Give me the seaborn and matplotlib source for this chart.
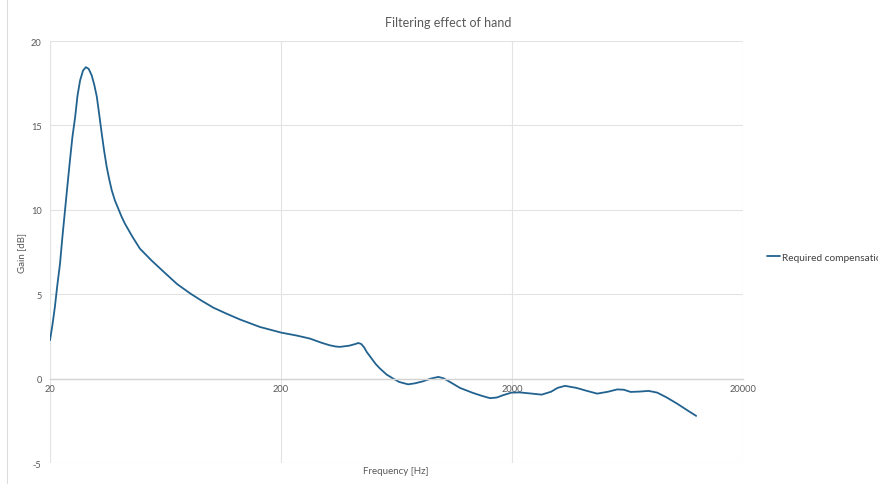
import matplotlib
matplotlib.use("Agg")
import matplotlib.pyplot as plt
from matplotlib.patches import Rectangle
import seaborn as sns
import pandas as pd

# Frequency response of the compensation needed for the hand's filtering
freq_hz = [20, 20.5, 21.0, 21.5, 22.1, 22.6, 23.2, 23.8, 24.4, 25.0, 25.7, 26.3,
           27.0, 27.8, 28.6, 29.4, 30.3, 31.1, 31.9, 32.7, 33.5, 34.3, 35.2,
           36.1, 37.0, 38.2, 39.5, 40.8, 42.2, 45.5, 49, 55, 63, 71, 81, 91,
           102, 116, 133, 162, 201, 234, 267, 300, 326, 345, 360, 395, 420, 432,
           445, 458, 470, 494, 515, 537, 573, 612, 650, 710, 760, 824, 890, 960,
           1010, 1078, 1190, 1356, 1480, 1608, 1720, 1832, 1990, 2165, 2400,
           2688, 2950, 3150, 3392, 3800, 4200, 4676, 5200, 5709, 6100, 6526,
           7100, 7820, 8500, 9300, 10360, 11400, 12540]
gain_db = [2.27, 3.2, 4.25, 5.5, 6.81, 8.3, 9.9, 11.45, 12.93, 14.3, 15.5, 16.75,
           17.67, 18.25, 18.45, 18.35, 17.97, 17.4, 16.69, 15.6, 14.51, 13.5,
           12.54, 11.8, 11.16, 10.55, 10.07, 9.6, 9.18, 8.4, 7.70, 7.0, 6.25,
           5.6, 5.04, 4.6, 4.2, 3.85, 3.5, 3.06, 2.72, 2.55, 2.37, 2.12, 1.97,
           1.9, 1.88, 1.95, 2.05, 2.11, 2.05, 1.85, 1.58, 1.18, 0.85, 0.59, 0.24,
           0.0, -0.2, -0.34, -0.28, -0.16, 0.0, 0.10, 0.02, -0.2, -0.55, -0.85,
           -1.02, -1.16, -1.12, -0.98, -0.83, -0.82, -0.88, -0.95, -0.78, -0.55,
           -0.43, -0.55, -0.72, -0.89, -0.78, -0.64, -0.66, -0.79, -0.77, -0.73,
           -0.83, -1.1, -1.48, -1.85, -2.21]

x_ticks = [20, 200, 2000, 20000]
x_tick_labels = ["20", "200", "2000", "20000"]
y_ticks = [-5, 0, 5, 10, 15, 20]

series_name = "Required compensation"
title = "Filtering effect of hand"

sns.set_style("white")
plt.rcParams["font.family"] = ["Lato", "DejaVu Sans"]

LINE = "#21628f"
GRID = "#e3e3e3"
TEXT = "#595959"

W, H = 879, 485
fig = plt.figure(figsize=(W / 100, H / 100), dpi=100)
ax = fig.add_axes([50 / W, 1 - 464 / H, (743 - 50) / W, (464 - 42) / H])

df = pd.DataFrame({"Frequency": freq_hz, "Gain": gain_db})
sns.lineplot(data=df, x="Frequency", y="Gain", ax=ax, color=LINE,
             linewidth=1.3, label=series_name, sort=True)
ax.lines[0].set_solid_joinstyle("round")

ax.set_xscale("log")
ax.set_xlim(20, 20000)
ax.set_ylim(-5, 20)
ax.set_xticks(x_ticks)
ax.set_xticklabels(x_tick_labels)
ax.xaxis.set_minor_locator(matplotlib.ticker.NullLocator())
ax.set_yticks(y_ticks)
ax.set_yticklabels([str(v) for v in y_ticks])

ax.grid(True, color=GRID, linewidth=0.8)
ax.set_axisbelow(True)
for side in ["top", "right", "left"]:
    ax.spines[side].set_visible(False)
# horizontal axis line crosses at zero, labels sit under it
ax.spines["bottom"].set_position(("data", 0))
ax.spines["bottom"].set_color("#d4d4d4")
ax.spines["bottom"].set_linewidth(1.0)
ax.tick_params(axis="both", length=0, labelsize=6.7, labelcolor=TEXT)
ax.tick_params(axis="x", pad=4)
ax.tick_params(axis="y", pad=6)
ax.set_xlabel("")
ax.set_ylabel("")

fig.text(448 / W, 1 - 23 / H, title, ha="center", va="center",
         fontsize=9, color=TEXT)
fig.text(396 / W, 1 - 472 / H, "Frequency [Hz]", ha="center", va="center",
         fontsize=7, color=TEXT)
fig.text(22 / W, 1 - 253 / H, "Gain [dB]", ha="center", va="center",
         rotation=90, fontsize=7, color=TEXT)

ax.get_legend().remove()
handles, labels = ax.get_legend_handles_labels()
fig.legend(handles, labels, loc="center left",
           bbox_to_anchor=(767 / W, 1 - 258 / H), frameon=False,
           fontsize=7.3, handlelength=1.3, handletextpad=0.2, borderpad=0,
           borderaxespad=0, labelcolor="#404040")

# outer chart frame
fig.patches.append(Rectangle((7 / W, -0.2), 1.2, 1.2 + (1 - 8 / H),
                             transform=fig.transFigure, fill=False,
                             edgecolor="#dcdcdc", linewidth=0.8))

fig.savefig("out.png", dpi=100)
